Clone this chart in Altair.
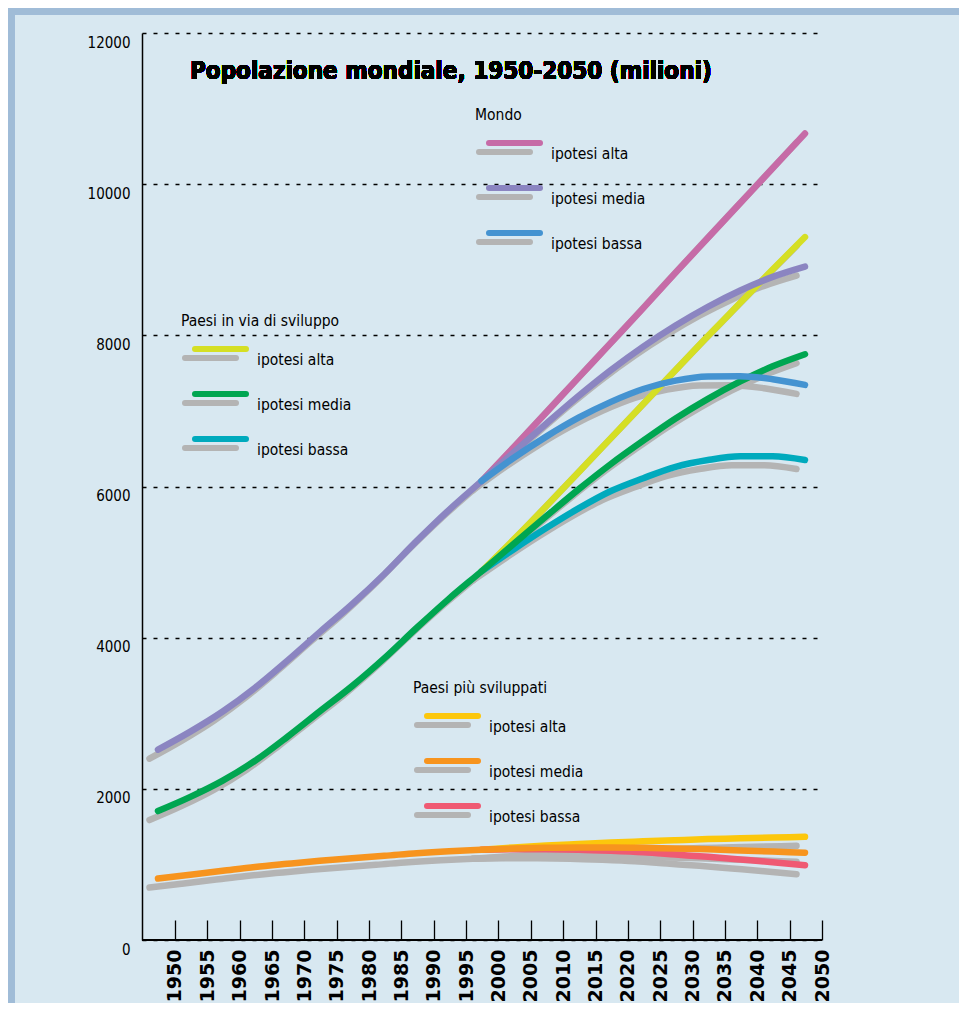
import altair as alt
import pandas as pd

# ---------------- data (millions) ----------------
years = list(range(1950, 2051, 5))
proj_years = list(range(2000, 2051, 5))

world_media = [2519, 2757, 3023, 3337, 3696, 4073, 4442, 4843, 5280, 5692, 6071,
               6454, 6830, 7197, 7540, 7851, 8130, 8378, 8594, 8774, 8910]
world_alta = [6071, 6520, 6980, 7440, 7900, 8360, 8830, 9290, 9750, 10210, 10670]
world_bassa = [6071, 6380, 6660, 6910, 7120, 7290, 7400, 7455, 7460, 7420, 7345]

svil_media = [1706, 1893, 2108, 2371, 2688, 3025, 3359, 3729, 4131, 4517, 4877,
              5243, 5605, 5962, 6298, 6606, 6900, 7160, 7390, 7590, 7750]
svil_alta = [4877, 5300, 5740, 6190, 6640, 7090, 7540, 7990, 8430, 8870, 9300]
svil_bassa = [4877, 5170, 5450, 5710, 5940, 6110, 6260, 6350, 6400, 6400, 6350]

dev_media = [813, 864, 915, 966, 1008, 1048, 1083, 1114, 1149, 1175, 1194,
             1210, 1220, 1225, 1225, 1220, 1210, 1200, 1185, 1170, 1155]
dev_alta = [1194, 1225, 1250, 1270, 1290, 1305, 1320, 1335, 1345, 1355, 1365]
dev_bassa = [1194, 1200, 1200, 1195, 1180, 1160, 1130, 1100, 1065, 1030, 990]

y_ticks = [0, 2000, 4000, 6000, 8000, 10000, 12000]
title_text = "Popolazione mondiale, 1950-2050 (milioni)"
groups = ["Mondo", "Paesi in via di sviluppo", "Paesi più sviluppati"]
hyp_labels = ["ipotesi alta", "ipotesi media", "ipotesi bassa"]

# ---------------- styles ----------------
C = {
    "Mondo": ["#c66ba7", "#8b85c1", "#4493d1"],
    "Paesi in via di sviluppo": ["#d5df24", "#00a651", "#00aabd"],
    "Paesi più sviluppati": ["#fcc70c", "#f7941e", "#ef5a73"],
}
GREY = "#b4b4b4"
BG = "#d8e8f1"
BAND = "#a0bcd7"
FONT = "Liberation Sans Narrow, DejaVu Sans Condensed, sans-serif"
W, H = 680, 907
PAD = {"left": 134, "top": 25, "right": 137, "bottom": 63}

# series (group, hypothesis index, years, values); drawing order
series = [
    ("Paesi più sviluppati", 0, proj_years, dev_alta),
    ("Paesi più sviluppati", 2, proj_years, dev_bassa),
    ("Paesi più sviluppati", 1, years, dev_media),
    ("Paesi in via di sviluppo", 0, proj_years, svil_alta),
    ("Paesi in via di sviluppo", 2, proj_years, svil_bassa),
    ("Paesi in via di sviluppo", 1, years, svil_media),
    ("Mondo", 0, proj_years, world_alta),
    ("Mondo", 1, years, world_media),
    ("Mondo", 2, proj_years, world_bassa),
]

rows = []
for k, (g, h, yrs, vals) in enumerate(series):
    for yr, v in zip(yrs, vals):
        rows.append({"series": f"{g} - {hyp_labels[h]}", "k": k, "year": yr,
                     "value": v, "color": C[g][h]})
df = pd.DataFrame(rows)

x_enc = alt.X("year:Q",
              scale=alt.Scale(domain=[1944.9, 2050], nice=False, zero=False),
              axis=alt.Axis(values=years, format="d", labelAngle=270, offset=-20,
                            tickSize=20, domain=False, grid=False,
                            tickColor="black", tickWidth=1.3, labelPadding=9,
                            labelFont="DejaVu Sans", labelFontWeight="bold",
                            labelFontSize=19, labelColor="black", title=None,
                            labelFlush=False, labelOverlap=False))
y_enc = alt.Y("value:Q",
              scale=alt.Scale(domain=[0, 12000], nice=False, zero=True),
              axis=alt.Axis(values=y_ticks, format="d", grid=True,
                            gridDash=[4, 7], gridColor="black", gridWidth=1.3,
                            domainColor="black", domainWidth=1.5, ticks=False,
                            labelPadding=12, labelBaseline="top", labelOffset=2,
                            labelFont=FONT, labelFontSize=15, labelColor="black",
                            title=None, labelFlush=False))

base = alt.Chart(df)

shadows = base.mark_line(color=GREY, strokeWidth=6.5, strokeCap="round",
                         interpolate="monotone", xOffset=-25.5, yOffset=9).encode(
    x=x_enc, y=y_enc, detail="series:N")

colored = []
for k in range(len(series)):
    colored.append(
        base.transform_filter(alt.datum.k == k).mark_line(
            strokeWidth=6.5, strokeCap="round", interpolate="monotone", xOffset=-17
        ).encode(x=x_enc, y=y_enc, color=alt.Color("color:N", scale=None))
    )

baseline = alt.Chart(df).mark_rule(color="black", strokeWidth=1.5).encode(
    x=alt.value(0), x2=alt.value(W), y=alt.value(H))

# ---------------- frame ----------------
frame_top = alt.Chart(df).mark_rule(color=BAND, strokeWidth=6).encode(
    x=alt.value(-PAD["left"]), x2=alt.value(W + PAD["right"]), y=alt.value(-PAD["top"] + 3.5))
frame_left = alt.Chart(df).mark_rule(color=BAND, strokeWidth=6).encode(
    x=alt.value(-PAD["left"] + 3.5), y=alt.value(-PAD["top"] + 1), y2=alt.value(H + PAD["bottom"]))

# ---------------- title ----------------
title = alt.Chart(df).mark_text(align="left", baseline="middle", font=FONT,
                                fontSize=24, fontWeight="bold", color="black").encode(
    x=alt.value(48), y=alt.value(39), text=alt.value(title_text))

# ---------------- custom legends ----------------
origin = {"Mondo": (333, 82), "Paesi in via di sviluppo": (39, 288),
          "Paesi più sviluppati": (271, 655)}
ROW = 45
leg_rows, title_rows = [], []
for g in groups:
    gx, gy = origin[g]
    title_rows.append({"t": g, "x": gx, "y": gy})
    for i, lab in enumerate(hyp_labels):
        leg_rows.append({"label": lab, "color": C[g][i],
                         "cx1": gx + 14, "cx2": gx + 65, "cy": gy + 28 + i * ROW,
                         "sx1": gx + 4, "sx2": gx + 55, "sy": gy + 37 + i * ROW,
                         "tx": gx + 76, "ty": gy + 39 + i * ROW})
leg = pd.DataFrame(leg_rows)
tit = pd.DataFrame(title_rows)

leg_shadow = alt.Chart(leg).mark_rule(color=GREY, strokeWidth=6, strokeCap="round").encode(
    x=alt.X("sx1:Q", scale=None), x2="sx2:Q", y=alt.Y("sy:Q", scale=None))
leg_line = alt.Chart(leg).mark_rule(strokeWidth=6, strokeCap="round").encode(
    x=alt.X("cx1:Q", scale=None), x2="cx2:Q", y=alt.Y("cy:Q", scale=None),
    color=alt.Color("color:N", scale=None))
leg_text = alt.Chart(leg).mark_text(align="left", baseline="middle", font=FONT,
                                    fontSize=15.5, color="black").encode(
    x=alt.X("tx:Q", scale=None), y=alt.Y("ty:Q", scale=None), text="label:N")
leg_title = alt.Chart(tit).mark_text(align="left", baseline="middle", font=FONT,
                                     fontSize=15.5, color="black").encode(
    x=alt.X("x:Q", scale=None), y=alt.Y("y:Q", scale=None), text="t:N")

chart = alt.layer(
    frame_top, frame_left, shadows, *colored, baseline, title,
    leg_shadow, leg_line, leg_text, leg_title
).properties(
    width=W, height=H, background=BG, padding=PAD,
    autosize=alt.AutoSizeParams(type="none")
).configure_view(stroke=None)

chart.save("out.html", embed_options={"renderer": "svg", "actions": False})
